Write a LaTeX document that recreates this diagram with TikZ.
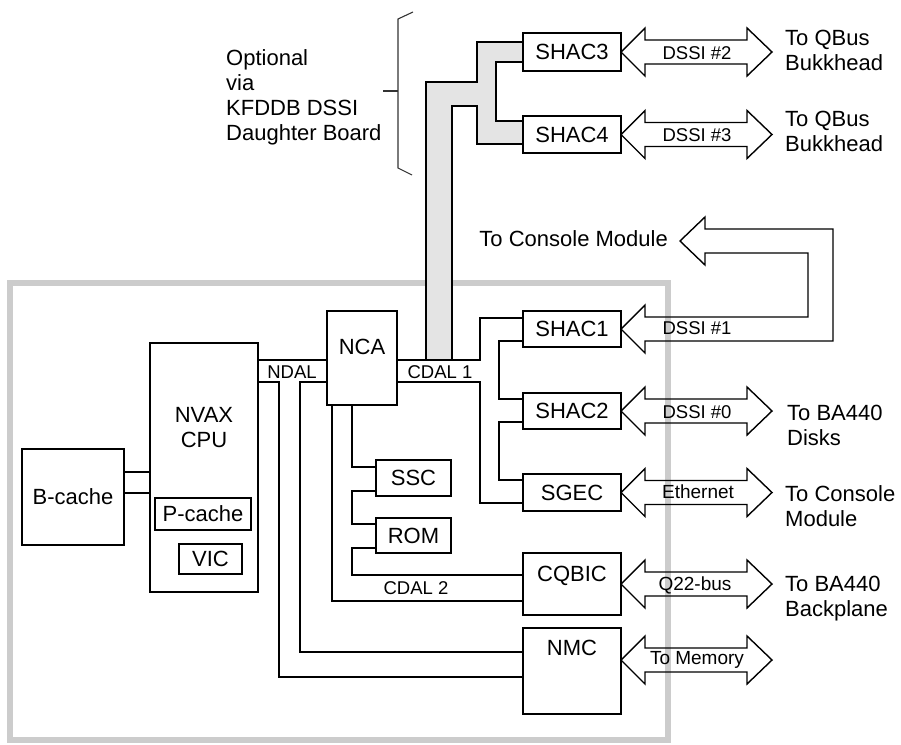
\documentclass[tikz,border=0pt]{standalone}
\usepackage{fontspec}
\setmainfont{Liberation Sans}
\definecolor{boardgray}{RGB}{204,204,204}
\definecolor{busgray}{RGB}{228,228,228}
\tikzset{
  box/.style={draw, line width=2.6pt, inner sep=0pt, outer sep=0pt, anchor=north west, font=\fontsize{22}{25}\selectfont},
  ibox/.style={draw, line width=1.5pt, inner sep=0pt, outer sep=0pt, anchor=north west, font=\fontsize{22}{25}\selectfont},
  wire/.style={line width=1.4pt},
  arrline/.style={line width=1.4pt, line join=miter},
  lbl/.style={inner sep=0pt, font=\fontsize{22}{25}\selectfont},
  slbl/.style={inner sep=0pt, font=\fontsize{18.5}{20}\selectfont},
  alb/.style={inner sep=0pt, font=\fontsize{19}{21}\selectfont},
  pics/dblarr/.style={code={
    \draw[arrline] (0,0) -- (24,-24) -- (24,-12) -- (126,-12) -- (126,-24) -- (151,0)
      -- (126,24) -- (126,12) -- (24,12) -- (24,24) -- cycle;}}
}
\begin{document}
\begin{tikzpicture}[x=1pt,y=-1pt]
\useasboundingbox (0,0) rectangle (901,744);
% board outline
\draw[boardgray, line width=6pt] (10,283) rectangle (668,740);

% gray optional bus
\fill[busgray] (426,360) -- (426,82) -- (477,82) -- (477,42) -- (523,42) -- (523,62)
  -- (496,62) -- (496,121) -- (523,121) -- (523,144) -- (477,144) -- (477,106)
  -- (452,106) -- (452,360) -- cycle;

% boxes
\node[box, minimum width=102pt, minimum height=96pt] (bcache) at (22,449) {B-cache};
\node[box, minimum width=108pt, minimum height=249pt,
  label={[lbl, anchor=north, align=center, yshift=-64pt]north:NVAX\\CPU}] (cpu) at (150,343) {};
\node[ibox, minimum width=96pt, minimum height=32pt] (pcache) at (155,498) {P-cache};
\node[ibox, minimum width=63pt, minimum height=30pt] (vic) at (179,544) {VIC};
\node[box, minimum width=70pt, minimum height=94pt,
  label={[lbl, anchor=base, yshift=-43pt]north:NCA}] (nca) at (327,311) {};
\node[box, minimum width=75pt, minimum height=36pt] (ssc) at (376,460) {SSC};
\node[box, minimum width=75pt, minimum height=35pt] (rom) at (376,518) {ROM};
\node[box, minimum width=98pt, minimum height=38pt] (shac3) at (523,33) {SHAC3};
\node[box, minimum width=98pt, minimum height=37pt] (shac4) at (523,116) {SHAC4};
\node[box, minimum width=98pt, minimum height=36pt] (shac1) at (523,311) {SHAC1};
\node[box, minimum width=98pt, minimum height=36pt] (shac2) at (523,393) {SHAC2};
\node[box, minimum width=98pt, minimum height=37pt] (sgec) at (523,474) {SGEC};
\node[box, minimum width=98pt, minimum height=62pt,
  label={[lbl, anchor=base, yshift=-28pt]north:CQBIC}] (cqbic) at (523,553) {};
\node[box, minimum width=98pt, minimum height=86pt,
  label={[lbl, anchor=base, yshift=-27pt]north:NMC}] (nmc) at (523,628) {};

% optional bus outline
\draw[wire] (426,360) -- (426,82) -- (477,82) -- (477,42) -- (shac3.west |- 0,42);
\draw[wire] (shac3.west |- 0,62) -- (496,62) -- (496,121) -- (shac4.west |- 0,121);
\draw[wire] (shac4.west |- 0,144) -- (477,144) -- (477,106) -- (452,106) -- (452,360);

% B-cache to CPU
\draw[wire] (bcache.east |- 0,472) -- (cpu.west |- 0,472);
\draw[wire] (bcache.east |- 0,493) -- (cpu.west |- 0,493);

% NDAL
\draw[wire] (cpu.east |- 0,360) -- (nca.west |- 0,360);
\draw[wire] (cpu.east |- 0,382) -- (279,382) |- (nmc.west |- 0,677);
\draw[wire] (nca.west |- 0,382) -- (300,382) |- (nmc.west |- 0,652);
\node[slbl] (ndal) at (292,372) {NDAL};

% NCA downward (CDAL 2)
\draw[wire] (nca.south -| 332,0) |- (cqbic.west |- 0,601);
\draw[wire] (nca.south -| 352,0) |- (ssc.west |- 0,467);
\draw[wire] (ssc.west |- 0,491) -- (352,491) |- (rom.west |- 0,524);
\draw[wire] (rom.west |- 0,548) -- (352,548) |- (cqbic.west |- 0,575);
\node[slbl] (cdaltwo) at (416,588) {CDAL 2};

% CDAL 1
\draw[wire] (nca.east |- 0,360) -- (480,360) |- (shac1.west |- 0,318);
\draw[wire] (nca.east |- 0,382) -- (480,382) |- (sgec.west |- 0,503);
\node[slbl] (cdalone) at (440,372) {CDAL 1};
\draw[wire] (shac1.west |- 0,341) -- (499,341) |- (shac2.west |- 0,399);
\draw[wire] (shac2.west |- 0,422) -- (499,422) |- (sgec.west |- 0,480);

% brace
\draw[line width=1.1pt, black!80] (413,12) -- (398,19) -- (398,168) -- (412,175);
\draw[line width=1.1pt, black!80] (383,91) -- (398,91);
\node[lbl, anchor=north west, align=left] (opt) at (226,49)
  {Optional\\via\\KFDDB DSSI\\Daughter Board};

% double arrows
\pic at (shac3.east) {dblarr};
\pic at (shac4.east) {dblarr};
\pic at (shac2.east) {dblarr};
\pic at (sgec.east) {dblarr};
\pic at (cqbic.east) {dblarr};
\pic at (nmc.east |- 0,660) {dblarr};

% console arrow from SHAC1
\draw[arrline] (shac1.east) -- ++(24,-24) -- ++(0,12) -- (808,317) -- (808,253)
  -- (705,253) -- (705,265) -- (680,241) -- (705,217) -- (705,229) -- (833,229)
  -- (833,341) -- (645,341) -- (645,353) -- cycle;

% arrow labels
\node[slbl] (dssitwo) at (697,53) {DSSI \#2};
\node[slbl] (dssithree) at (697,135) {DSSI \#3};
\node[slbl] (dssione) at (697,328) {DSSI \#1};
\node[slbl] (dssizero) at (697,412) {DSSI \#0};
\node[alb] (eth) at (698,492) {Ethernet};
\node[alb] (qbus) at (695,585) {Q22-bus};
\node[alb] (mem) at (697,660) {To Memory};

% destination texts
\node[lbl, anchor=west, align=left] (dstthree) at (785,50) {To QBus\\Bukkhead};
\node[lbl, anchor=west, align=left] (dstfour) at (785,131) {To QBus\\Bukkhead};
\node[lbl, anchor=east] (dstcons) at (668,239) {To Console Module};
\node[lbl, anchor=west, align=left] (dsttwo) at (787,425) {To BA440\\Disks};
\node[lbl, anchor=west, align=left] (dsteth) at (785,506) {To Console\\Module};
\node[lbl, anchor=west, align=left] (dstq) at (785,599) {To BA440\\Backplane};
\end{tikzpicture}
\end{document}
